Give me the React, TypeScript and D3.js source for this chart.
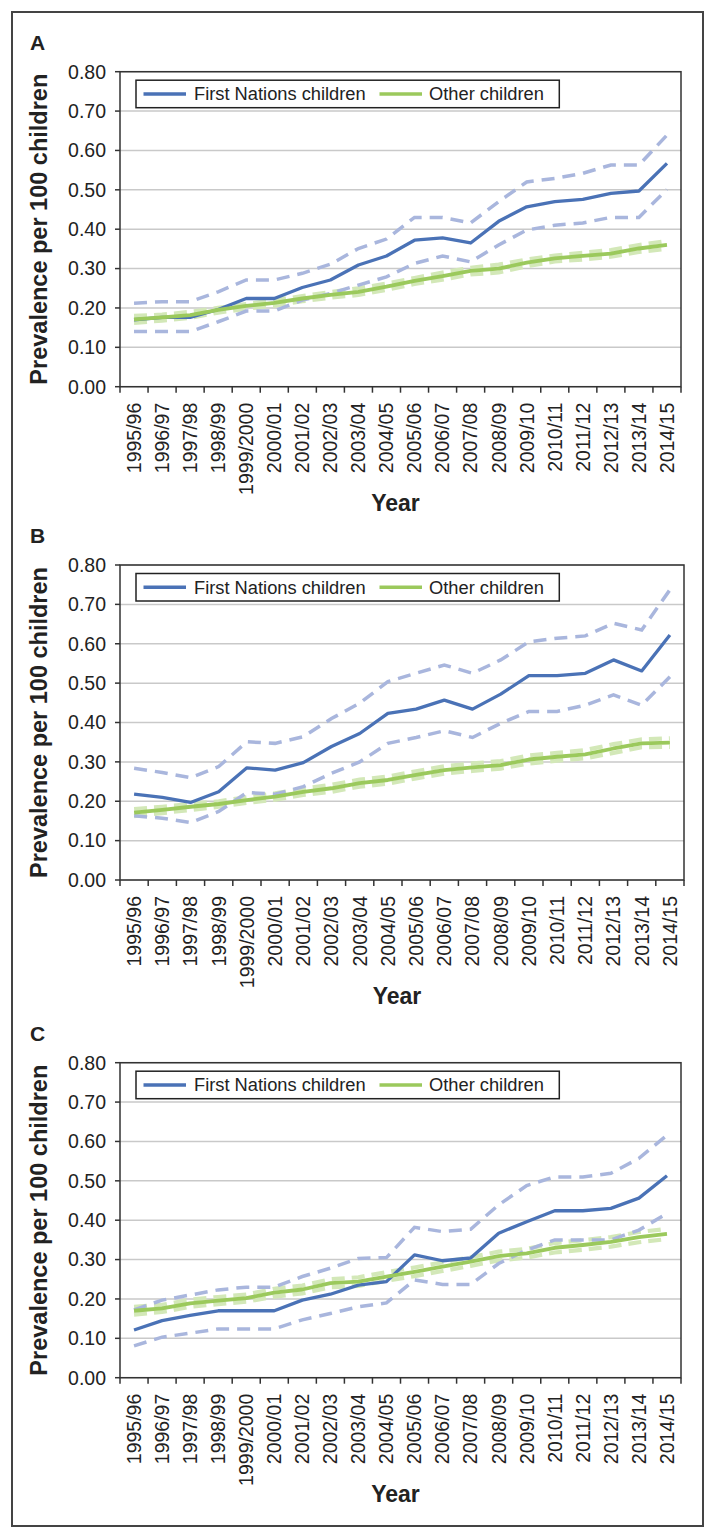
import React from "react";
import * as d3 from "d3";

const years = ["1995/96","1996/97","1997/98","1998/99","1999/2000","2000/01","2001/02","2002/03","2003/04","2004/05","2005/06","2006/07","2007/08","2008/09","2009/10","2010/11","2011/12","2012/13","2013/14","2014/15"];
const yTicks = [0, 0.1, 0.2, 0.3, 0.4, 0.5, 0.6, 0.7, 0.8];

const aFirstNations = [0.17,0.176,0.176,0.196,0.224,0.224,0.252,0.271,0.309,0.332,0.372,0.378,0.365,0.42,0.457,0.47,0.476,0.491,0.497,0.567];
const aFirstNationsUpper = [0.212,0.216,0.216,0.241,0.271,0.271,0.288,0.311,0.351,0.375,0.43,0.43,0.416,0.47,0.52,0.529,0.542,0.563,0.563,0.639];
const aFirstNationsLower = [0.14,0.14,0.14,0.165,0.192,0.192,0.22,0.237,0.258,0.279,0.313,0.332,0.317,0.36,0.398,0.41,0.416,0.43,0.43,0.501];
const aOther = [0.171,0.176,0.182,0.195,0.205,0.213,0.224,0.233,0.241,0.254,0.269,0.281,0.294,0.3,0.315,0.326,0.332,0.338,0.351,0.36];
const aOtherUpper = [0.18,0.183,0.19,0.2,0.21,0.22,0.23,0.24,0.25,0.262,0.276,0.29,0.302,0.31,0.323,0.333,0.34,0.347,0.36,0.37];
const aOtherLower = [0.162,0.168,0.175,0.188,0.198,0.206,0.217,0.226,0.233,0.246,0.261,0.272,0.285,0.29,0.306,0.318,0.323,0.33,0.342,0.35];

const bFirstNations = [0.218,0.21,0.197,0.224,0.285,0.279,0.298,0.339,0.372,0.423,0.434,0.457,0.434,0.472,0.519,0.519,0.525,0.559,0.531,0.622];
const bFirstNationsUpper = [0.284,0.273,0.26,0.288,0.351,0.347,0.364,0.41,0.449,0.504,0.525,0.546,0.525,0.559,0.605,0.614,0.62,0.652,0.635,0.737];
const bFirstNationsLower = [0.163,0.157,0.146,0.174,0.222,0.218,0.237,0.271,0.3,0.347,0.362,0.379,0.362,0.398,0.428,0.428,0.444,0.47,0.444,0.516];
const bOther = [0.171,0.178,0.186,0.193,0.203,0.212,0.224,0.233,0.246,0.254,0.267,0.279,0.286,0.292,0.306,0.313,0.319,0.334,0.347,0.349];
const bOtherUpper = [0.18,0.186,0.193,0.2,0.21,0.22,0.232,0.242,0.255,0.263,0.276,0.289,0.296,0.302,0.316,0.323,0.33,0.345,0.357,0.36];
const bOtherLower = [0.162,0.17,0.178,0.186,0.196,0.204,0.216,0.224,0.237,0.245,0.258,0.27,0.277,0.283,0.296,0.303,0.309,0.323,0.337,0.338];

const cFirstNations = [0.121,0.145,0.158,0.17,0.17,0.17,0.197,0.212,0.235,0.244,0.312,0.297,0.304,0.367,0.396,0.424,0.424,0.43,0.456,0.513];
const cFirstNationsUpper = [0.172,0.197,0.21,0.223,0.23,0.23,0.257,0.278,0.303,0.305,0.382,0.371,0.377,0.439,0.488,0.51,0.51,0.519,0.557,0.616];
const cFirstNationsLower = [0.081,0.103,0.113,0.124,0.124,0.124,0.147,0.163,0.18,0.19,0.248,0.237,0.237,0.29,0.324,0.35,0.35,0.35,0.375,0.417];
const cOther = [0.17,0.176,0.189,0.196,0.202,0.216,0.224,0.24,0.244,0.257,0.269,0.282,0.295,0.309,0.316,0.33,0.337,0.345,0.357,0.365];
const cOtherUpper = [0.18,0.185,0.198,0.205,0.211,0.226,0.234,0.25,0.255,0.268,0.28,0.293,0.306,0.32,0.327,0.342,0.349,0.357,0.37,0.378];
const cOtherLower = [0.16,0.167,0.18,0.187,0.193,0.206,0.214,0.23,0.233,0.246,0.258,0.271,0.284,0.298,0.305,0.318,0.325,0.333,0.344,0.352];

const FONT = "'Liberation Sans', Arial, Helvetica, sans-serif";
const BLUE = "#4a72b6";
const BLUE_CI = "#a9b6dd";
const GREEN = "#9bc95c";
const GREEN_CI = "#d3e8b8";

type PanelProps = {
  label: string;
  top: number;
  right: number;
  fn: number[]; fnU: number[]; fnL: number[];
  ot: number[]; otU: number[]; otL: number[];
};

function Panel(p: PanelProps) {
  const left = 120;
  const plotH = 315;
  const bottom = p.top + plotH;
  const x = d3.scaleBand<string>().domain(years).range([left, p.right]);
  const y = d3.scaleLinear().domain([0, 0.8]).range([bottom, p.top]);
  const cx = (i: number) => (x(years[i]) as number) + x.bandwidth() / 2;
  const line = d3.line<number>().x((_, i) => cx(i)).y((d) => y(d));
  const boundaries = years.map((yr) => x(yr) as number).concat([p.right]);
  const legTop = p.top + 8.5;
  const legH = 27.5;
  const legMid = legTop + legH / 2;
  return (
    <g>
      <text x={30} y={p.top - 22} fontFamily={FONT} fontWeight="bold" fontSize={21} fill="#222">{p.label}</text>
      {yTicks.map((t) => (
        <line key={"g" + t} x1={left} x2={p.right} y1={y(t)} y2={y(t)} stroke="#c9c9c9" strokeWidth={1.5} />
      ))}
      <rect x={left} y={p.top} width={p.right - left} height={plotH} fill="none" stroke="#333" strokeWidth={1.5} />
      {yTicks.map((t) => (
        <g key={"t" + t}>
          <line x1={left - 5} x2={left} y1={y(t)} y2={y(t)} stroke="#333" strokeWidth={1.5} />
          <text x={106} y={y(t)} dy="0.35em" textAnchor="end" fontFamily={FONT} fontSize={19.5} fill="#222">{t.toFixed(2)}</text>
        </g>
      ))}
      {boundaries.map((bx, i) => (
        <line key={"x" + i} x1={bx} x2={bx} y1={bottom} y2={bottom + 6} stroke="#333" strokeWidth={1.5} />
      ))}
      {years.map((yr, i) => (
        <text key={yr} transform={`translate(${cx(i)},${bottom + 16}) rotate(-90)`} dy="0.35em" textAnchor="end" fontFamily={FONT} fontSize={19.5} fill="#222">{yr}</text>
      ))}
      <text transform={`translate(47,${(p.top + bottom) / 2}) rotate(-90)`} textAnchor="middle" fontFamily={FONT} fontWeight="bold" fontSize={23.5} fill="#222">Prevalence per 100 children</text>
      <text x={(left + p.right) / 2 - 5} y={bottom + 124} textAnchor="middle" fontFamily={FONT} fontWeight="bold" fontSize={23} fill="#222">Year</text>

      <path d={line(p.otU) || ""} fill="none" stroke={GREEN_CI} strokeWidth={4.2} strokeDasharray="13,7" />
      <path d={line(p.otL) || ""} fill="none" stroke={GREEN_CI} strokeWidth={4.2} strokeDasharray="13,7" />
      <path d={line(p.fnU) || ""} fill="none" stroke={BLUE_CI} strokeWidth={3.5} strokeDasharray="13,8" />
      <path d={line(p.fnL) || ""} fill="none" stroke={BLUE_CI} strokeWidth={3.5} strokeDasharray="13,8" />
      <path d={line(p.fn) || ""} fill="none" stroke={BLUE} strokeWidth={3.3} strokeLinejoin="round" />
      <path d={line(p.ot) || ""} fill="none" stroke={GREEN} strokeWidth={3.8} strokeLinejoin="round" />

      <rect x={136} y={legTop} width={423.3} height={legH} fill="#fff" stroke="#222" strokeWidth={1.5} />
      <line x1={143.5} x2={186} y1={legMid} y2={legMid} stroke={BLUE} strokeWidth={3.5} />
      <text x={194} y={legMid} dy="0.35em" fontFamily={FONT} fontSize={18.3} fill="#222">First Nations children</text>
      <line x1={379.5} x2={422} y1={legMid} y2={legMid} stroke={GREEN} strokeWidth={3.5} />
      <text x={429} y={legMid} dy="0.35em" fontFamily={FONT} fontSize={18.3} fill="#222">Other children</text>
    </g>
  );
}

export default function App() {
  return (
    <svg width={716} height={1539} style={{ position: "absolute", left: 0, top: 0, display: "block", background: "#fff" }}>
      <rect x={0} y={0} width={716} height={1539} fill="#fff" />
      <rect x={12} y={12} width={691} height={1514} fill="none" stroke="#444" strokeWidth={2} />
      <Panel label="A" top={71.7} right={681} fn={aFirstNations} fnU={aFirstNationsUpper} fnL={aFirstNationsLower} ot={aOther} otU={aOtherUpper} otL={aOtherLower} />
      <Panel label="B" top={565} right={684} fn={bFirstNations} fnU={bFirstNationsUpper} fnL={bFirstNationsLower} ot={bOther} otU={bOtherUpper} otL={bOtherLower} />
      <Panel label="C" top={1062.7} right={681} fn={cFirstNations} fnU={cFirstNationsUpper} fnL={cFirstNationsLower} ot={cOther} otU={cOtherUpper} otL={cOtherLower} />
    </svg>
  );
}
